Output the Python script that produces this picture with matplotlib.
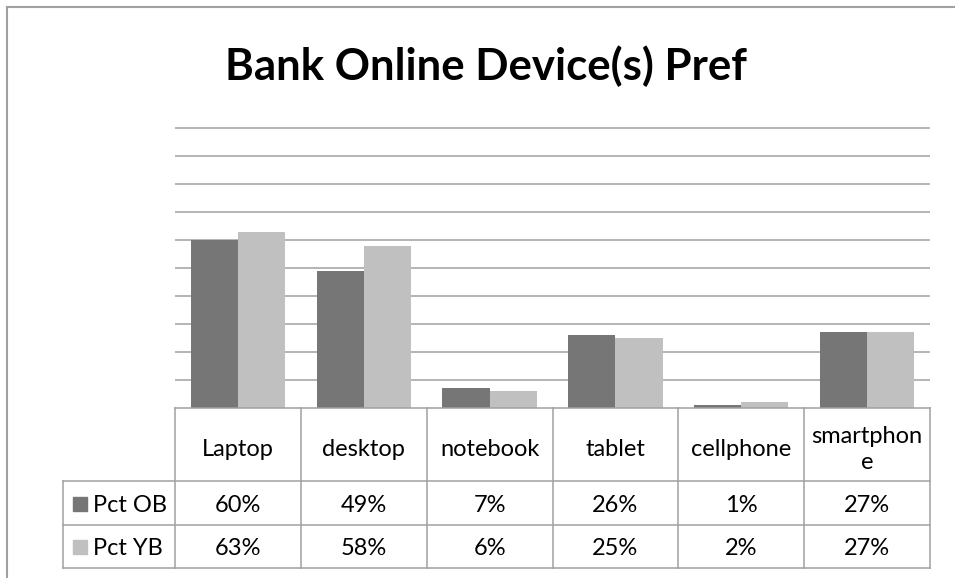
"""Bar chart of online banking device preference with an Excel-style data table underneath."""
import textwrap

import matplotlib

matplotlib.use("Agg")
import matplotlib.pyplot as plt
import numpy as np
from matplotlib import transforms
from matplotlib.lines import Line2D
from matplotlib.patches import Rectangle

devices = ["Laptop", "desktop", "notebook", "tablet", "cellphone", "smartphone"]
series_names = ["Pct OB", "Pct YB"]
pct_ob = [0.60, 0.49, 0.07, 0.26, 0.01, 0.27]
pct_yb = [0.63, 0.58, 0.06, 0.25, 0.02, 0.27]

W, H = 955, 578
DARK = "#767676"
LIGHT = "#c0c0c0"
LINE = "#a0a0a0"
FONT = "Lato"
TABLE_SIZE = 17


def fx(px):
    return px / W


def fy(py):
    return 1 - py / H


fig = plt.figure(figsize=(W / 100, H / 100), dpi=100)
ax = fig.add_axes([fx(175), fy(408), (930 - 175) / W, (408 - 126) / H])

x = np.arange(len(devices))
width = 0.375
ax.bar(x - width / 2, pct_ob, width, color=DARK, zorder=3)
ax.bar(x + width / 2, pct_yb, width, color=LIGHT, zorder=3)

ax.set_xlim(-0.5, len(devices) - 0.5)
ax.set_ylim(0, 1 + 2 / 280)
ax.set_yticks(np.arange(0.1, 1.01, 0.1))
ax.yaxis.grid(True, color=LINE, linewidth=1.1)
ax.tick_params(left=False, bottom=False, labelleft=False, labelbottom=False)
for spine in ax.spines.values():
    spine.set_visible(False)

fig.text(fx(486), fy(80), "Bank Online Device(s) Pref", ha="center", va="baseline",
         fontsize=31.5, fontweight="bold", family=FONT)

# data table below the plot: column x from data coords, y in figure coords
tr = transforms.blended_transform_factory(ax.transData, fig.transFigure)
y_top, y_head, y_row1, y_bot = 408, 481, 525, 568
x_left_px = 63

edges = np.arange(len(devices) + 1) - 0.5
for e in edges:
    fig.add_artist(Line2D([e, e], [fy(y_top), fy(y_bot)], transform=tr, color=LINE, lw=1.1))
fig.add_artist(Line2D([edges[0], edges[-1]], [fy(y_top), fy(y_top)], transform=tr, color=LINE, lw=1.1))

x_right = ax.transData.transform((edges[-1], 0))[0] / W
for yy in (y_head, y_row1, y_bot):
    fig.add_artist(Line2D([fx(x_left_px), x_right], [fy(yy), fy(yy)], color=LINE, lw=1.1))
fig.add_artist(Line2D([fx(x_left_px), fx(x_left_px)], [fy(y_head), fy(y_bot)], color=LINE, lw=1.1))

txt = dict(ha="center", va="baseline", fontsize=TABLE_SIZE, family=FONT, color="black")

# header cells, long names wrap like in the spreadsheet
for i, name in enumerate(devices):
    lines = textwrap.wrap(name, 9)
    first = 456 - (len(lines) - 1) * 13
    for k, part in enumerate(lines):
        fig.text(x[i], fy(first + k * 26), part, transform=tr, **txt)

row_mid = [(y_head + y_row1) / 2, (y_row1 + y_bot) / 2]
for name, vals, col, ym in zip(series_names, [pct_ob, pct_yb], [DARK, LIGHT], row_mid):
    fig.add_artist(Rectangle((fx(73), fy(ym + 7.5)), 14 / W, 14 / H, color=col))
    fig.text(fx(93), fy(ym + 8.5), name, ha="left", va="baseline",
             fontsize=TABLE_SIZE, family=FONT)
    for i, v in enumerate(vals):
        fig.text(x[i], fy(ym + 8.5), f"{v:.0%}", transform=tr, **txt)

# chart area border
fig.add_artist(Line2D([fx(7), fx(7)], [fy(7), 0], color=LINE, lw=1.5))
fig.add_artist(Line2D([fx(7), 1], [fy(7), fy(7)], color=LINE, lw=1.5))

fig.savefig("out.png", dpi=100)
